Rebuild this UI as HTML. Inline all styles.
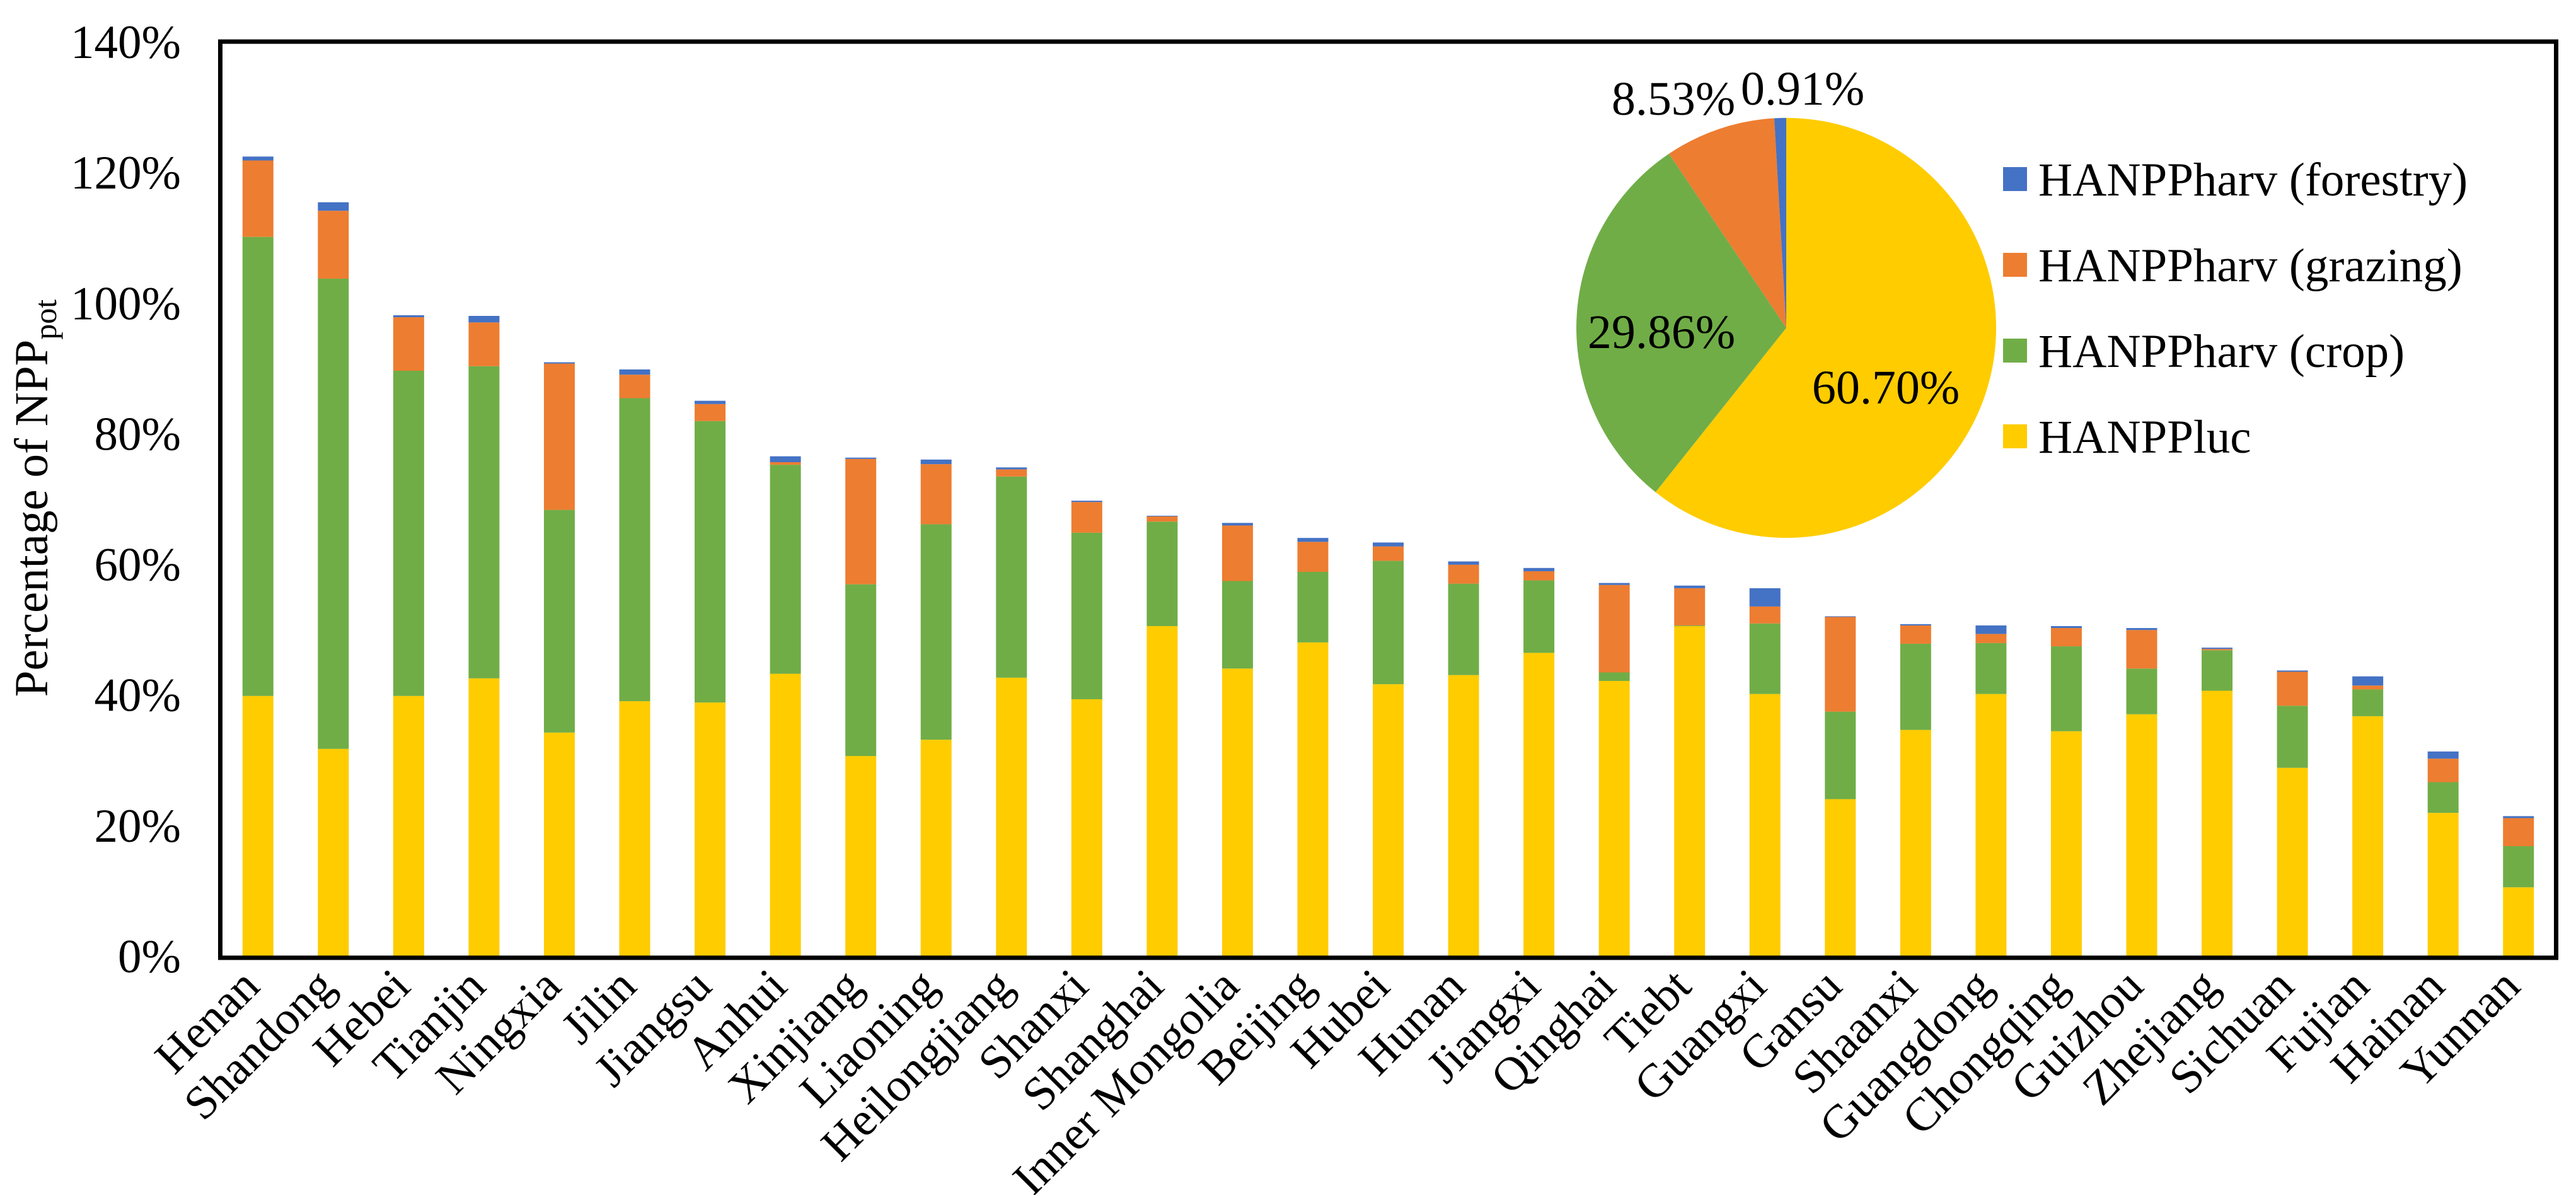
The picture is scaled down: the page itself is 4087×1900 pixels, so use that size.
<!DOCTYPE html>
<html><head><meta charset="utf-8"><style>
html,body{margin:0;padding:0;background:#fff;}
svg, svg text{font-family:"Liberation Serif","DejaVu Serif",serif;}
</style></head><body>
<svg id="chart" width="4087" height="1895" viewBox="0 0 4087 1895" xmlns="http://www.w3.org/2000/svg" font-family="Liberation Serif, serif">
<rect x="0" y="0" width="4087" height="1895" fill="#fff"/>
<g id="bars"></g>
<g id="yticks"></g>
<g id="xlabels"></g>
<rect x="349.5" y="66" width="3706" height="1453" fill="none" stroke="#000" stroke-width="7"/>
<text font-family="Liberation Serif, serif" transform="translate(75,790) rotate(-90)" text-anchor="middle" font-size="75">Percentage of NPP<tspan font-size="50" dy="14">pot</tspan></text>
<g id="pie"></g>
<g id="legend"></g>
</svg>
<script>
const categories = ["Henan","Shandong","Hebei","Tianjin","Ningxia","Jilin","Jiangsu","Anhui","Xinjiang","Liaoning","Heilongjiang","Shanxi","Shanghai","Inner Mongolia","Beijing","Hubei","Hunan","Jiangxi","Qinghai","Tiebt","Guangxi","Gansu","Shaanxi","Guangdong","Chongqing","Guizhou","Zhejiang","Sichuan","Fujian","Hainan","Yunnan"];
const lucVals = [39.8,31.7,39.8,42.5,34.2,39.0,38.8,43.2,30.6,33.1,42.6,39.3,50.5,44.0,48.0,41.6,43.0,46.4,42.1,50.5,40.1,24.0,34.6,40.1,34.4,37.0,40.6,28.8,36.7,21.9,10.5];
const cropVals = [70.3,72.0,49.8,47.8,34.1,46.4,43.1,32.0,26.3,33.0,30.8,25.5,16.0,13.4,10.8,18.9,14.0,11.1,1.3,0.1,10.8,13.4,13.2,7.8,13.0,7.0,6.2,9.5,4.1,4.7,6.3];
const grazVals = [11.7,10.4,8.2,6.7,22.4,3.6,2.6,0.4,19.2,9.2,1.1,4.7,0.8,8.5,4.6,2.2,2.9,1.4,13.4,5.7,2.6,14.5,2.8,1.4,2.8,5.9,0.2,5.2,0.6,3.6,4.3];
const forVals = [0.6,1.3,0.3,1.0,0.2,0.8,0.5,0.9,0.2,0.7,0.3,0.2,0.1,0.4,0.6,0.6,0.5,0.5,0.3,0.4,2.8,0.1,0.2,1.3,0.3,0.3,0.2,0.2,1.4,1.1,0.3];
const yTicks = [0,20,40,60,80,100,120,140];
const pieLabels = ["HANPPluc","HANPPharv (crop)","HANPPharv (grazing)","HANPPharv (forestry)"];
const pieVals = [60.70,29.86,8.53,0.91];
const legendOrder = ["HANPPharv (forestry)","HANPPharv (grazing)","HANPPharv (crop)","HANPPluc"];

const NS="http://www.w3.org/2000/svg";
const FF="Liberation Serif, DejaVu Serif, serif";
const colors={"HANPPluc":"#FFCC00","HANPPharv (crop)":"#70AD47","HANPPharv (grazing)":"#ED7D31","HANPPharv (forestry)":"#4472C4"};
const plotL=349.5, plotR=4055.5, base=1516, yMax=140, yTop=66;
function y(v){return base-(v/yMax)*(base-yTop);}
const step=(plotR-plotL)/categories.length;
function xc(i){return plotL+step*(i+0.5);}
const barW=49;
function mk(tag,attrs,parent){const e=document.createElementNS(NS,tag);for(const k in attrs)e.setAttribute(k,attrs[k]);parent.appendChild(e);return e;}

const barsG=document.getElementById('bars');
const series=[["HANPPluc",lucVals,"luc"],["HANPPharv (crop)",cropVals,"crop"],["HANPPharv (grazing)",grazVals,"grazing"],["HANPPharv (forestry)",forVals,"forestry"]];
categories.forEach((c,i)=>{
  let cum=0;
  series.forEach(([name,vals,key])=>{
    const v=vals[i];
    const r=mk('rect',{x:xc(i)-barW/2,y:y(cum+v),width:barW,height:y(cum)-y(cum+v),fill:colors[name]},barsG);
    
    
    cum+=v;
  });
});
const yt=document.getElementById('yticks');
yTicks.forEach(t=>{
  const e=mk('text',{x:287,y:y(t)+26,'text-anchor':'end','font-size':75,'font-family':FF},yt);
  e.textContent=t+'%';
  
  
});
const xl=document.getElementById('xlabels');
categories.forEach((c,i)=>{
  const ax=xc(i)+6, ay=1568;
  const e=mk('text',{x:ax,y:ay,'text-anchor':'end','font-size':75,'font-family':FF,transform:`rotate(-45 ${ax} ${ay})`},xl);
  e.textContent=c;
  
  
});
const pg=document.getElementById('pie');
const cx=2834, cy=520, R=333;
const total=pieVals.reduce((a,b)=>a+b,0);
let ang=0;
pieVals.forEach((v,i)=>{
  const a0=ang, a1=ang+v/total*2*Math.PI; ang=a1;
  const x0=cx+R*Math.sin(a0), y0=cy-R*Math.cos(a0), x1=cx+R*Math.sin(a1), y1=cy-R*Math.cos(a1);
  const large=(a1-a0)>Math.PI?1:0;
  const p=mk('path',{d:`M${cx},${cy} L${x0},${y0} A${R},${R} 0 ${large} 1 ${x1},${y1} Z`,fill:colors[pieLabels[i]]},pg);
  
  
});
const pieLabelPos=[[2992,640],[2636,552],[2655,182],[2860,166]];
pieVals.forEach((v,i)=>{
  const e=mk('text',{x:pieLabelPos[i][0],y:pieLabelPos[i][1],'text-anchor':'middle','font-size':76,'font-family':FF},pg);
  e.textContent=v.toFixed(2)+'%';
  
  
});
const lg=document.getElementById('legend');
legendOrder.forEach((n,i)=>{
  const ly=284+i*136;
  const s=mk('rect',{x:3178,y:ly-19,width:38,height:38,fill:colors[n]},lg);
  
  
  const t=mk('text',{x:3234,y:ly+26,'font-size':75,'font-family':FF},lg);
  t.textContent=n;
  
  
});
</script>
</body></html>
